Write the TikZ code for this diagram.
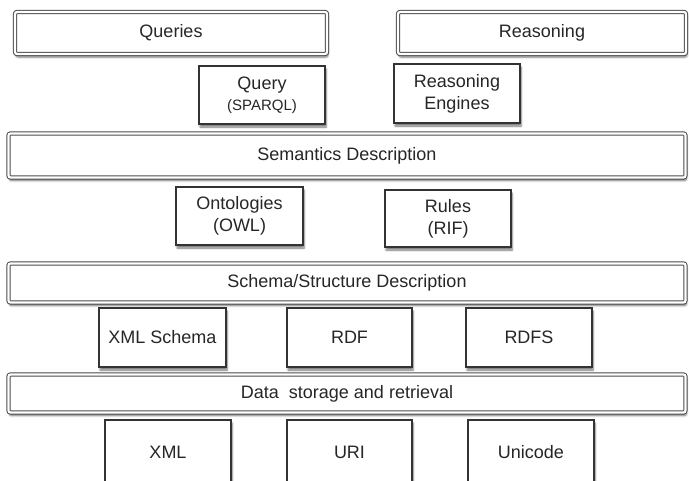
\documentclass[tikz,border=0pt]{standalone}
\usepackage{fontspec}
\setmainfont{Liberation Sans}
\usetikzlibrary{positioning,shadows.blur}

\begin{document}
\begin{tikzpicture}[x=1pt,y=-1pt,font=\fontsize{18}{22}\selectfont,text=black!85,
   layer/.style={draw=black!70,line width=1pt,double=white,double distance=2.2pt,
     rounded corners=2pt,fill=white,minimum height=#1,inner sep=0pt,
     blur shadow={shadow xshift=1pt,shadow yshift=-3pt,shadow blur steps=6,shadow opacity=55}},
   layer/.default=42pt,
   comp/.style={draw=black!80,line width=1.2pt,fill=white,align=center,
     minimum width=126pt,minimum height=58pt,inner sep=0pt,
     blur shadow={shadow xshift=1pt,shadow yshift=-3pt,shadow blur steps=6,shadow opacity=55}}]
  \useasboundingbox (0,0) rectangle (689,480);
  % top layer
  \node[layer,minimum width=312pt] (queries) at (171,33) {Queries};
  \node[layer,minimum width=288pt] (reasoning) at (542,33) {Reasoning};
  \node[comp] (query) at (262,95) {Query\\[-1pt]{\fontsize{15}{17}\selectfont(SPARQL)}};
  \node[comp,minimum height=59pt] (engines) at (457,93.5) {Reasoning\\Engines};
  % semantics
  \node[layer=44pt,minimum width=677pt] (semantics) at (347,155.5) {Semantics Description};
  \node[comp,minimum width=127pt] (owl) at (239.5,216) {Ontologies\\(OWL)};
  \node[comp,minimum height=57pt] (rif) at (448,218.5) {Rules\\(RIF)};
  % schema / structure
  \node[layer=39pt,minimum width=677pt] (schema) at (347,283) {Schema/Structure Description};
  \node[comp,minimum width=127pt,minimum height=59pt] (xmlschema) at (162.5,337.5) {XML Schema};
  \node[comp,minimum width=125pt,minimum height=59pt] (rdf) at (349.5,337.5) {RDF};
  \node[comp,minimum height=59pt] (rdfs) at (529,337.5) {RDFS};
  % data storage
  \node[layer=38pt,minimum width=677pt] (storage) at (347,393.5) {Data\ \ storage and retrieval};
  \node[comp,minimum height=64pt] (xml) at (168,452) {XML};
  \node[comp,minimum width=125pt,minimum height=64pt] (uri) at (349.5,452) {URI};
  \node[comp,minimum height=64pt] (unicode) at (531,452) {Unicode};
\end{tikzpicture}
\end{document}
